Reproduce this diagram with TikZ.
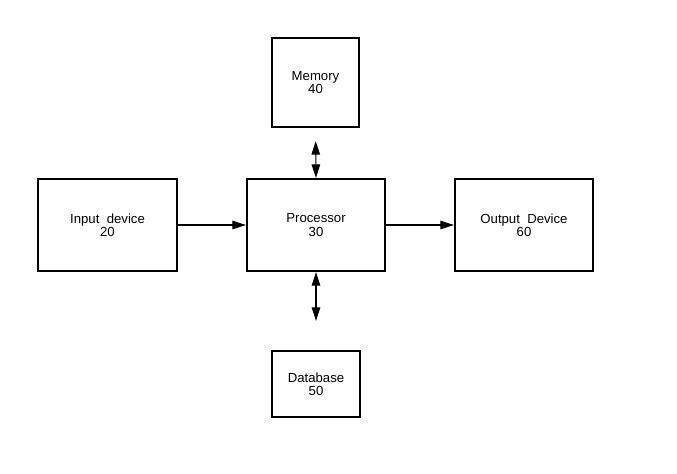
\documentclass[tikz,border=0pt]{standalone}
\usepackage{fontspec}
\setmainfont{Liberation Sans}
\usepackage{tikz}
\usetikzlibrary{arrows.meta}

\tikzset{
  unit/.style={draw, line width=1.3pt, align=center, inner sep=0pt,
    font=\fontsize{7.5}{7.6}\selectfont},
  link/.style={line width=0.6pt, -{Triangle[length=0.27cm,width=0.17cm]}},
  duplex/.style={line width=0.6pt,
    {Triangle[length=0.27cm,width=0.17cm]}-{Triangle[length=0.27cm,width=0.17cm]}}
}

\begin{document}
\begin{tikzpicture}
\useasboundingbox (0,0) rectangle (13.54,9.46);

\node [unit, minimum width=2.78cm, minimum height=1.84cm] (input)     at (2.15,4.96) {Input\ \ device\\20};
\node [unit, minimum width=2.76cm, minimum height=1.84cm] (processor) at (6.32,4.96) {Processor\\30};
\node [unit, minimum width=2.76cm, minimum height=1.84cm] (output)    at (10.48,4.96) {Output\ \ Device\\60};
\node [unit, minimum width=1.74cm, minimum height=1.78cm] (memory)    at (6.31,7.81) {Memory\\40};
\node [unit, minimum width=1.76cm, minimum height=1.32cm] (database)  at (6.32,1.78) {Database\\50};

\draw [link] (input) -- (processor);
\draw [link] (processor) -- (output);
\draw [duplex, shorten >=0.26cm] (processor.north) -- (memory.south);
\draw [duplex, shorten >=0.58cm] (processor.south) -- (database.north);

\end{tikzpicture}
\end{document}
